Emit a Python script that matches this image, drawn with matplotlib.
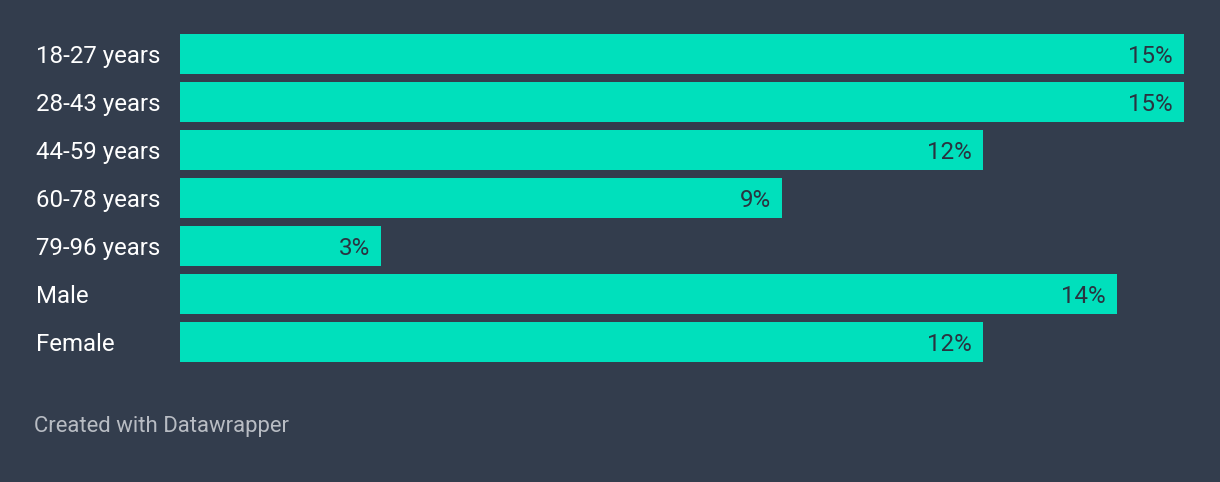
import matplotlib as mpl
mpl.use("Agg")
from matplotlib import pyplot as plt
from matplotlib.transforms import blended_transform_factory, offset_copy

categories = ["18-27 years", "28-43 years", "44-59 years", "60-78 years",
              "79-96 years", "Male", "Female"]
values = [15, 15, 12, 9, 3, 14, 12]
value_labels = ["15%", "15%", "12%", "9%", "3%", "14%", "12%"]

BG = "#333d4d"
BAR = "#00e0bc"

plt.rcParams["font.family"] = ["Roboto", "DejaVu Sans"]

W, H = 1220, 482
fig = plt.figure(figsize=(W / 100, H / 100), dpi=100, facecolor=BG)

# - axes placed so that 0..15 spans the bar area
ax = fig.add_axes([180 / W, 1 - 362 / H, 1004 / W, 328 / H])
ax.set_facecolor(BG)
ypos = list(range(len(categories)))
bar_h = 40 / 48
ax.barh(ypos, values, height=bar_h, color=BAR, linewidth=0)
ax.set_xlim(0, max(values))
ax.set_ylim(len(categories) - 1 + bar_h / 2, -bar_h / 2)
ax.axis("off")

# -- value labels inside bars
for y, v, lab in zip(ypos, values, value_labels):
    tr = offset_copy(ax.transData, fig=fig, x=-11, y=0, units="dots")
    ax.text(v, y, lab, transform=tr, ha="right", va="center_baseline",
            fontsize=17.4, color="#2a3340")

# -- category labels on the left
tr = blended_transform_factory(fig.transFigure, ax.transData)
for y, cat in zip(ypos, categories):
    ax.text(36 / W, y, cat, transform=tr, ha="left", va="center_baseline",
            fontsize=17.3, color="white")

fig.text(34 / W, 1 - 424 / H, "Created with Datawrapper", ha="left",
         va="center_baseline", fontsize=15.9, color="#b8bcc3")

fig.savefig("out.png", dpi=100, facecolor=BG)
